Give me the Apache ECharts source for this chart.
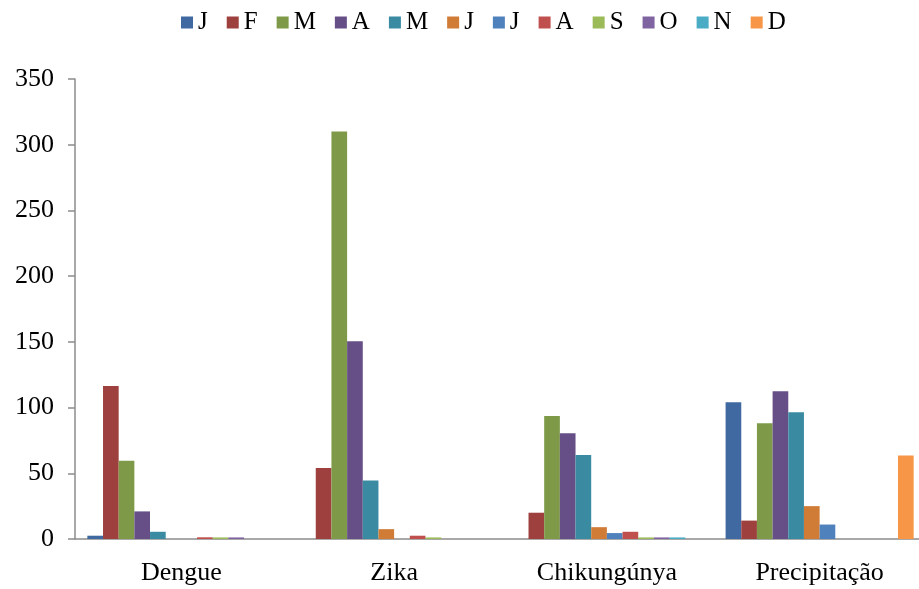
<!DOCTYPE html>
<html>
<head>
<meta charset="utf-8">
<script src="https://cdn.jsdelivr.net/npm/echarts@6/dist/echarts.min.js"></script>
<style>
  html, body { margin: 0; padding: 0; background: #fff; }
  #chart { width: 919px; height: 589px; }
</style>
</head>
<body>
<div id="chart"></div>
<script>
  // categories on the x axis
  const categories = ['Dengue', 'Zika', 'Chikungúnya', 'Precipitação'];
  // one series per month
  const months = ['J', 'F', 'M', 'A', 'M', 'J', 'J', 'A', 'S', 'O', 'N', 'D'];
  const monthColors = ['#3F69A0', '#9E413E', '#7E9A48', '#664F87', '#3A8BA2', '#D07B36',
                       '#4F81BD', '#C0504D', '#9BBB59', '#8064A2', '#4BACC6', '#F79646'];
  // values per month, in order Dengue, Zika, Chikungúnya, Precipitação
  const janVals = [2.5, 0, 0, 104];
  const febVals = [116.5, 54, 20, 14];
  const marVals = [59.5, 310, 93.5, 88];
  const aprVals = [21, 150.5, 80.5, 112.5];
  const mayVals = [5.5, 44.5, 64, 96.5];
  const junVals = [0, 7.5, 9, 25];
  const julVals = [0, 0, 4.5, 11];
  const augVals = [1.3, 2.5, 5.5, 0];
  const sepVals = [1.2, 1.2, 1.2, 0];
  const octVals = [1.2, 0, 1.2, 0];
  const novVals = [0, 0, 1.2, 0];
  const decVals = [0, 0, 0, 63.5];
  const monthValues = [janVals, febVals, marVals, aprVals, mayVals, junVals,
                       julVals, augVals, sepVals, octVals, novVals, decVals];
  // y axis range
  const yMin = 0;
  const yMax = 350;
  const yStep = 50;

  const font = '"Liberation Serif", "Times New Roman", serif';
  const axisColor = '#8c8c8c';

  const chart = echarts.init(document.getElementById('chart'), null, { renderer: 'canvas' });

  const series = months.map((m, i) => ({
    name: m + '\u200b'.repeat(i), // unique names, same visible label
    type: 'bar',
    data: monthValues[i],
    barGap: '0%',
    barCategoryGap: '11.6%',
    itemStyle: { color: monthColors[i] },
    emphasis: { disabled: true },
  }));

  const option = {
    animation: false,
    color: monthColors,
    legend: {
      top: 5,
      left: 176,
      icon: 'rect',
      itemWidth: 12,
      itemHeight: 12,
      itemGap: 19,
      textStyle: { fontFamily: font, fontSize: 25, color: '#000' },
      data: series.map(s => s.name),
    },
    grid: {
      left: 75,
      top: 79,
      right: -7,
      bottom: 50,
      containLabel: false,
      outerBoundsMode: 'none',
    },
    xAxis: {
      type: 'category',
      data: categories,
      axisLine: { lineStyle: { color: axisColor, width: 1.5 } },
      axisTick: { length: 7, lineStyle: { color: axisColor, width: 1.5 } },
      axisLabel: {
        fontFamily: font,
        fontSize: 26,
        color: '#000',
        margin: 21,
      },
    },
    yAxis: {
      type: 'value',
      min: yMin,
      max: yMax,
      interval: yStep,
      axisLine: { show: true, lineStyle: { color: axisColor, width: 1.5 } },
      axisTick: { show: true, length: 7, lineStyle: { color: axisColor, width: 1.5 } },
      splitLine: { show: false },
      axisLabel: {
        fontFamily: font,
        fontSize: 26,
        color: '#000',
        margin: 21,
      },
    },
    series: series,
  };

  chart.setOption(option);
</script>
</body>
</html>
